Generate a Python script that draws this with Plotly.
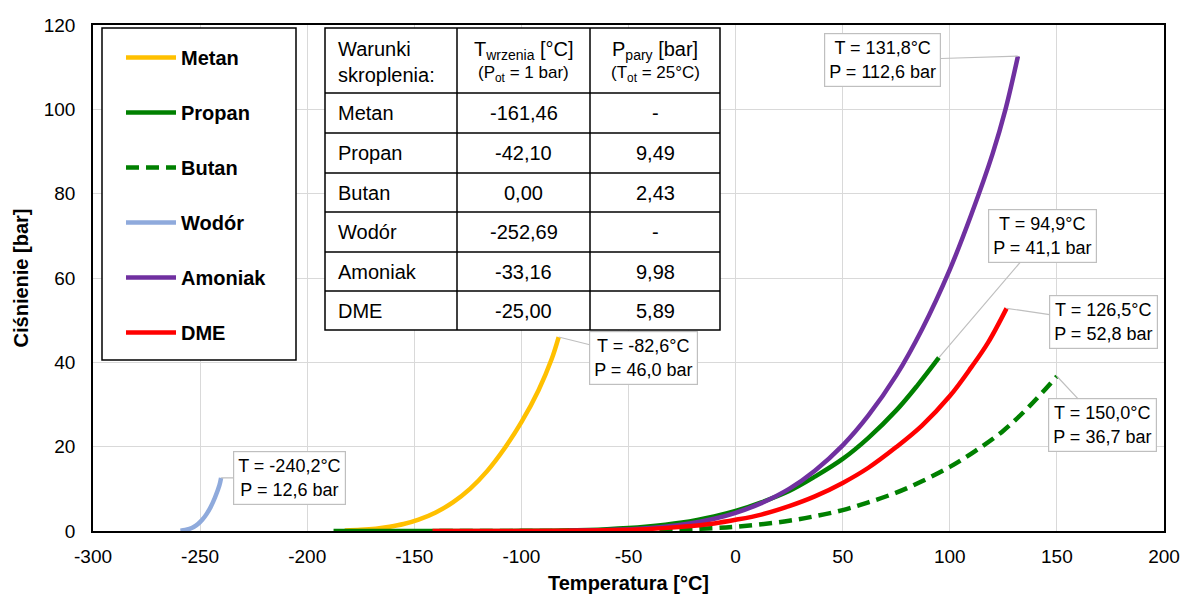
import plotly.graph_objects as go

# ---- Vapour-pressure curves: temperature [°C] and pressure [bar] ----
metan_t = [-182.5, -175, -168, -161.5, -155, -148, -140, -132, -124, -116, -108, -100, -92, -86, -82.6]
metan_p = [0.12, 0.28, 0.56, 1.01, 1.65, 2.7, 4.4, 6.8, 10.0, 14.2, 19.5, 25.8, 33.4, 40.6, 46.0]

propan_t = [-187.7, -160, -130, -100, -80, -60, -42.1, -25, -10, 0, 12, 25, 37, 50, 62, 75, 85, 94.9]
propan_p = [0.0, 0.0, 0.01, 0.03, 0.12, 0.43, 1.0, 2.0, 3.45, 4.74, 6.8, 9.49, 12.9, 17.1, 22.1, 28.6, 34.6, 41.1]

butan_t = [-138.3, -100, -70, -45, -25, -10, 0, 12, 25, 37, 50, 62, 75, 87, 100, 112, 125, 137, 150]
butan_p = [0.0, 0.002, 0.03, 0.15, 0.38, 0.68, 1.0, 1.6, 2.43, 3.5, 4.96, 6.8, 9.1, 11.8, 15.2, 19.0, 23.8, 29.5, 36.7]

wodor_t = [-259.2, -257, -255, -253, -251, -249, -247, -245, -243, -241, -240.2]
wodor_p = [0.07, 0.22, 0.5, 0.95, 1.65, 2.65, 4.0, 5.75, 8.0, 10.8, 12.6]

amoniak_t = [-77.7, -60, -45, -33.16, -20, -10, 0, 12, 25, 37, 50, 62, 75, 87, 100, 110, 120, 126, 131.8]
amoniak_p = [0.06, 0.22, 0.55, 1.0, 1.9, 2.9, 4.3, 6.6, 9.98, 14.3, 20.3, 27.4, 36.9, 47.8, 62.0, 75.0, 89.5, 100.0, 112.6]

dme_t = [-141.5, -110, -80, -60, -40, -25, -10, 0, 12, 25, 37, 50, 62, 75, 87, 100, 110, 118, 126.5]
dme_p = [0.0, 0.005, 0.06, 0.2, 0.5, 1.0, 1.8, 2.65, 3.9, 5.89, 8.2, 11.4, 15.0, 19.9, 25.0, 32.0, 38.8, 44.8, 52.8]

# ---- Table of liquefaction conditions ----
table_names = ["Metan", "Propan", "Butan", "Wodór", "Amoniak", "DME"]
table_t_boil = [-161.46, -42.10, 0.00, -252.69, -33.16, -25.00]
table_p_vap = [None, 9.49, 2.43, None, 9.98, 5.89]

# ---- Axis ticks ----
x_ticks = [-300, -250, -200, -150, -100, -50, 0, 50, 100, 150, 200]
y_ticks = [0, 20, 40, 60, 80, 100, 120]

FONT = "Liberation Sans, Arial, sans-serif"

# plot-area pixel frame (used to place the table and legend frame)
W, H = 1186, 599
PL, PR, PT, PB = 93, 1164, 25, 531


def px(x):
    return (x - PL) / (PR - PL)


def py(y):
    return (PB - y) / (PB - PT)


series = [
    ("Metan", metan_t, metan_p, "#FFC000", "solid", (85, 21)),
    ("Propan", propan_t, propan_p, "#008000", "solid", (104, -122)),
    ("Butan", butan_t, butan_p, "#008000", "13px,7px", (46, 49)),
    ("Wodór", wodor_t, wodor_p, "#8FAADC", "solid", (68, 0)),
    ("Amoniak", amoniak_t, amoniak_p, "#7030A0", "solid", (-135, 4)),
    ("DME", dme_t, dme_p, "#FF0000", "solid", (97, 14)),
]

fig = go.Figure()
annotations = []
for name, t, p, color, dash, (ax, ay) in series:
    fig.add_trace(go.Scatter(
        x=t, y=p, mode="lines", name=name, legendgroup=name,
        line=dict(color=color, width=4.5, dash=dash, shape="spline", smoothing=1.0),
        hoverinfo="x+y+name",
    ))
    tt, pp = t[-1], p[-1]
    label = (f"T = {tt:.1f}°C<br>P = {pp:.1f} bar").replace(".", ",")
    annotations.append(dict(
        x=tt, y=pp, xref="x", yref="y", text=label, showarrow=True,
        ax=ax, ay=ay, arrowhead=0, arrowwidth=1.2, arrowcolor="#BFBFBF",
        bordercolor="#BFBFBF", borderwidth=1.2, borderpad=4, bgcolor="white",
        font=dict(family=FONT, size=18, color="black"), align="center",
    ))

shapes = []
# legend frame
shapes.append(dict(type="rect", xref="paper", yref="paper",
                   x0=px(102), x1=px(296), y0=py(360), y1=py(28),
                   line=dict(color="black", width=1.5), fillcolor="white", layer="above"))

# table frame and grid
col_x = [325, 457, 590, 720]
row_y = [28, 93, 133, 173, 212, 252, 291, 330]
shapes.append(dict(type="rect", xref="paper", yref="paper",
                   x0=px(col_x[0]), x1=px(col_x[-1]), y0=py(row_y[-1]), y1=py(row_y[0]),
                   line=dict(color="black", width=1.5), fillcolor="white", layer="above"))
for cx in col_x[1:-1]:
    shapes.append(dict(type="line", xref="paper", yref="paper",
                       x0=px(cx), x1=px(cx), y0=py(row_y[-1]), y1=py(row_y[0]),
                       line=dict(color="black", width=1.5), layer="above"))
for ry in row_y[1:-1]:
    shapes.append(dict(type="line", xref="paper", yref="paper",
                       x0=px(col_x[0]), x1=px(col_x[-1]), y0=py(ry), y1=py(ry),
                       line=dict(color="black", width=1.5), layer="above"))

tfont = dict(family=FONT, size=20, color="black")
sfont = dict(family=FONT, size=17, color="black")
c1x = (col_x[1] + col_x[2]) / 2
c2x = (col_x[2] + col_x[3]) / 2


def cell(text, x, y, font, xanchor="center"):
    annotations.append(dict(x=px(x), y=py(y), xref="paper", yref="paper", text=text,
                            showarrow=False, xanchor=xanchor, yanchor="middle",
                            font=font, align="left"))


cell("Warunki<br>skroplenia:", 336, 62, tfont, "left")
cell("T<sub>wrzenia</sub> [°C]", c1x, 50, tfont)
cell("(P<sub>ot</sub> = 1 bar)", c1x, 74, sfont)
cell("P<sub>pary</sub> [bar]", c2x, 50, tfont)
cell("(T<sub>ot</sub> = 25°C)", c2x, 74, sfont)
for i, name in enumerate(table_names):
    yc = (row_y[i + 1] + row_y[i + 2]) / 2
    cell(name, 336, yc, tfont, "left")
    cell(f"{table_t_boil[i]:.2f}".replace(".", ","), c1x, yc, tfont)
    pv = table_p_vap[i]
    cell("-" if pv is None else f"{pv:.2f}".replace(".", ","), c2x, yc, tfont)

axis_common = dict(
    showgrid=True, gridcolor="#D9D9D9", gridwidth=1.2, zeroline=False,
    showline=True, linecolor="black", linewidth=1.5, mirror=True,
    ticks="outside", tickcolor="rgba(0,0,0,0)", automargin=False,
    tickfont=dict(family=FONT, size=19, color="black"),
)

fig.update_layout(
    width=W, height=H,
    margin=dict(l=PL, r=W - PR, t=PT, b=H - PB, autoexpand=False),
    paper_bgcolor="white", plot_bgcolor="white",
    font=dict(family=FONT, color="black"),
    xaxis=dict(range=[-300, 200], tickmode="array", tickvals=x_ticks,
               ticktext=[str(v) for v in x_ticks], ticklen=7,
               title=dict(text="Temperatura [°C]", standoff=10,
                          font=dict(family=FONT, size=20, weight="bold")),
               **axis_common),
    yaxis=dict(range=[0, 120], tickmode="array", tickvals=y_ticks,
               ticktext=[str(v) for v in y_ticks], ticklen=12,
               title=dict(text="Ciśnienie [bar]", standoff=10,
                          font=dict(family=FONT, size=20, weight="bold")),
               **axis_common),
    showlegend=True,
    legend=dict(x=px(121), y=py(38), xanchor="left", yanchor="top",
                bgcolor="rgba(0,0,0,0)", borderwidth=0,
                font=dict(family=FONT, size=20, weight="bold", color="black"),
                tracegroupgap=26, itemwidth=50, traceorder="grouped"),
    shapes=shapes,
    annotations=annotations,
)

fig.write_html("out.html")
